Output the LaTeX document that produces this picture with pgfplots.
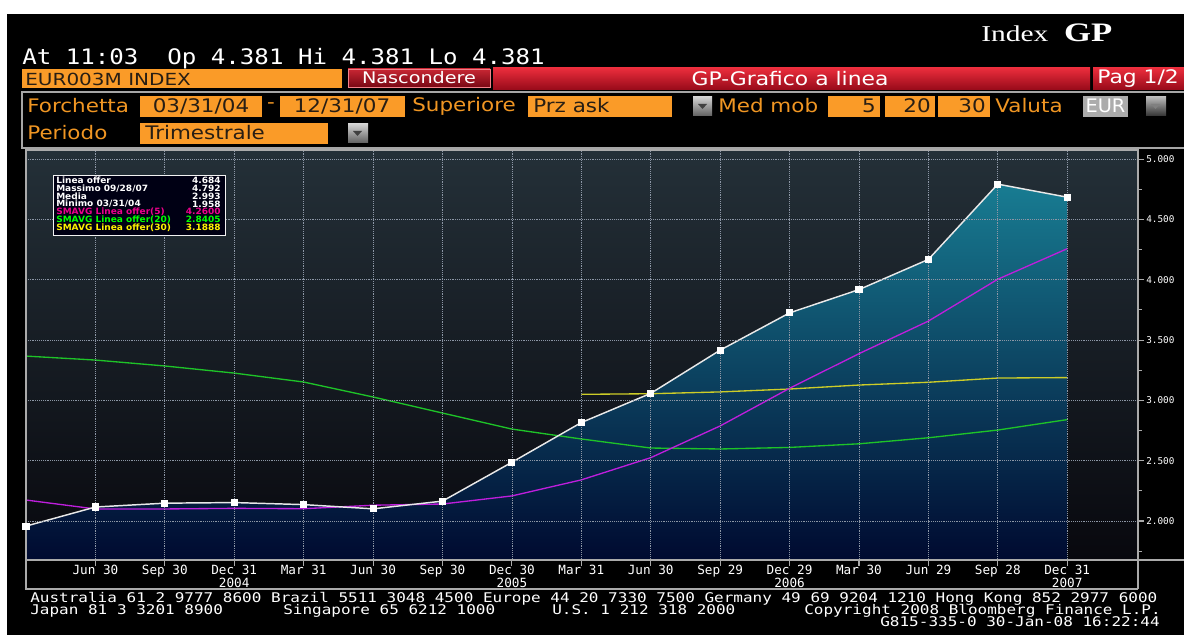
\documentclass[border=0pt]{standalone}
\usepackage{fontspec}
\setmainfont{DejaVu Sans}
\newfontfamily\mono{DejaVu Sans Mono}
\newfontfamily\ser{Liberation Serif}
\usepackage{pgfplots}
\pgfplotsset{compat=1.18}
\definecolor{bbor}{RGB}{250,155,40}
\definecolor{bbort}{RGB}{240,150,35}
\definecolor{boxtxt}{RGB}{40,30,20}
\definecolor{redT}{RGB}{235,45,60}
\definecolor{redB}{RGB}{150,10,25}
\definecolor{fillTop}{RGB}{24,124,146}
\definecolor{fillBot}{RGB}{0,10,48}
\definecolor{bgTop}{RGB}{36,48,56}
\definecolor{bgMid}{RGB}{20,26,28}
\definecolor{bgBot}{RGB}{8,8,14}
\definecolor{magl}{RGB}{190,30,220}
\definecolor{grnl}{RGB}{30,195,40}
\definecolor{yell}{RGB}{205,205,40}
\definecolor{gridc}{RGB}{140,150,165}
\definecolor{framec}{RGB}{170,170,170}
\begin{document}
\begin{tikzpicture}
\tikzset{P/.style={x=0.75pt,y=-0.75pt,shift={(0pt,476.25pt)}},
 hd/.style={font=\fontsize{14}{14}\selectfont, xscale=1.15, inner sep=0pt},
 lg/.style={font=\bfseries\fontsize{6.5}{6.5}\selectfont, xscale=1.04, inner sep=0pt},
 ft/.style={font=\mono\fontsize{10}{10}\selectfont, xscale=1.2, inner sep=0pt, text=white, anchor=base west},
 dd/.style={top color=gray!35, bottom color=gray!75!black}}
\useasboundingbox (0,0) rectangle (888pt,476.25pt);
\fill[white] (0,0) rectangle (888pt,476.25pt);
\begin{scope}[P]
\fill[black] (7,14) rectangle (1184,635);
% title
\node[anchor=base west, text=white, inner sep=0pt, xscale=1.3, font=\ser\fontsize{17}{17}\selectfont] at (981,42) {Index\hspace{9pt}{\fontsize{20}{20}\selectfont\bfseries GP}};
\node[anchor=base west, text=white, inner sep=0pt, xscale=1.13, font=\mono\fontsize{16}{16}\selectfont] at (22,65) {At 11:03\ \ Op 4.381 Hi 4.381 Lo 4.381};
% row of bars
\fill[bbor] (22,69) rectangle (342,88);
\node[anchor=west, text=boxtxt, inner sep=0pt, xscale=1.2, font=\fontsize{12.5}{12.5}\selectfont] at (25,79) {EUR003M INDEX};
\shade[top color=redT!85!black, bottom color=redB!80!black] (348,69) rectangle (490,87);
\draw[redT!60!white, line width=0.5pt] (348,69) rectangle (490,87);
\node[text=white, inner sep=0pt, xscale=1.2, font=\fontsize{12}{12}\selectfont] at (419,78) {Nascondere};
\shade[top color=redT, bottom color=redB] (493,68) rectangle (1090,90);
\node[text=white, inner sep=0pt, xscale=1.17, font=\fontsize{14}{14}\selectfont] at (790,79) {GP-Grafico a linea};
\shade[top color=redT, bottom color=redB] (1093,68) rectangle (1184,90);
\node[anchor=west, text=white, inner sep=0pt, xscale=1.17, font=\fontsize{14}{14}\selectfont] at (1097,79) {Pag 1/2};
% panel
\draw[gray!70, line width=0.8pt] (22,92) rectangle (1190,148);
\node[hd, anchor=west, text=bbort] at (27,106) {Forchetta};
\fill[bbor] (140,96) rectangle (262,117);
\node[hd, text=boxtxt] at (201,106) {03/31/04};
\node[hd, text=bbort] at (271,106) {-};
\fill[bbor] (280,96) rectangle (405,117);
\node[hd, text=boxtxt] at (342,106) {12/31/07};
\node[hd, anchor=west, text=bbort] at (412,106) {Superiore};
\fill[bbor] (528,96) rectangle (672,117);
\node[hd, anchor=west, text=boxtxt] at (533,106) {Prz ask};
\shade[dd] (693,97) rectangle (712,116);
\fill[black!75] (698,104) -- (707,104) -- (702.5,109) -- cycle;
\node[hd, anchor=west, text=bbort] at (718,106) {Med mob};
\fill[bbor] (828,96) rectangle (880,117);
\node[hd, anchor=east, text=boxtxt] at (876,106) {5};
\fill[bbor] (885,96) rectangle (935,117);
\node[hd, anchor=east, text=boxtxt] at (931,106) {20};
\fill[bbor] (938,96) rectangle (990,117);
\node[hd, anchor=east, text=boxtxt] at (986,106) {30};
\node[hd, anchor=west, text=bbort] at (995,106) {Valuta};
\fill[gray!65] (1083,96) rectangle (1128,117);
\node[hd, text=white, xscale=0.9] at (1105.5,106) {EUR};
\shade[top color=gray!55, bottom color=gray!40!black] (1146,97) rectangle (1166,116);
\fill[black!50] (1151,104) -- (1160,104) -- (1155.5,109) -- cycle;
\node[hd, anchor=west, text=bbort] at (27,133) {Periodo};
\fill[bbor] (140,123) rectangle (328,144);
\node[hd, anchor=west, text=boxtxt] at (145,133) {Trimestrale};
\shade[dd] (348,124) rectangle (368,143);
\fill[black!75] (353,131) -- (362,131) -- (357.5,136) -- cycle;
\end{scope}

\begin{axis}[
 at={(19.5pt,56.25pt)}, anchor=south west,
 width=834pt, height=307.5pt, scale only axis,
 xmin=0, xmax=16.02, ymin=1.677, ymax=5.075,
 axis on top,
 axis background/.style={top color=bgTop, middle color=bgMid, bottom color=bgBot},
 axis line style={draw=framec, line width=1pt},
 xtick={1,...,15},
 xticklabels={Jun 30,Sep 30,Dec 31\\2004,Mar 31,Jun 30,Sep 30,Dec 30\\2005,Mar 31,Jun 30,Sep 29,Dec 29\\2006,Mar 30,Jun 29,Sep 28,Dec 31\\2007},
 ytick={2,2.5,3,3.5,4,4.5,5},
 minor ytick={1.75,2.25,2.75,3.25,3.75,4.25,4.75},
 xtick pos=bottom, ytick pos=right, yticklabel pos=right,
 tick align=outside,
 major tick length=4.5pt, minor tick length=3pt,
 tick style={draw=framec, line width=0.8pt},
 xmajorgrids, ymajorgrids,
 grid style={draw=gridc, densely dotted, line width=0.6pt},
 /pgf/number format/assume math mode=true,
 yticklabel style={font=\mono\fontsize{7}{7}\selectfont, text=white, /pgf/number format/fixed, /pgf/number format/fixed zerofill, /pgf/number format/precision=3, inner xsep=1.5pt},
 xticklabel style={font=\mono\fontsize{9.5}{9.2}\selectfont, text=white, align=center, yshift=4pt},
]
% area under the offer line
\addplot[draw=none, top color=fillTop, bottom color=fillBot] coordinates {
 (0,1.677) (0,1.958) (1,2.116) (2,2.148) (3,2.153) (4,2.136) (5,2.101) (6,2.165) (7,2.487)
 (8,2.816) (9,3.058) (10,3.416) (11,3.725) (12,3.918) (13,4.168) (14,4.792) (15,4.684) (15,1.677)} -- cycle;
% SMAVG 20
\addplot[grnl, line width=1pt] coordinates {
 (0,3.367) (1,3.334) (2,3.285) (3,3.226) (4,3.152) (5,3.028) (6,2.895) (7,2.762)
 (8,2.680) (9,2.605) (10,2.597) (11,2.610) (12,2.640) (13,2.690) (14,2.754) (15,2.8405)};
% SMAVG 30
\addplot[yell, line width=1pt] coordinates {
 (8,3.050) (9,3.055) (10,3.070) (11,3.094) (12,3.127) (13,3.150) (14,3.185) (15,3.1888)};
% SMAVG 5
\addplot[magl, line width=1pt] coordinates {
 (0,2.174) (1,2.100) (2,2.100) (3,2.105) (4,2.102) (5,2.131) (6,2.141) (7,2.208)
 (8,2.341) (9,2.525) (10,2.788) (11,3.100) (12,3.387) (13,3.657) (14,4.004) (15,4.257)};
% offer line
\addplot[white!82!gray, line width=1.1pt, mark=square*, mark size=2.1pt, mark options={fill=white, draw=white}] coordinates {
 (0,1.958) (1,2.116) (2,2.148) (3,2.153) (4,2.136) (5,2.101) (6,2.165) (7,2.487)
 (8,2.816) (9,3.058) (10,3.416) (11,3.725) (12,3.918) (13,4.168) (14,4.792) (15,4.684)};
\end{axis}

\begin{scope}[P]
% frame of the date strip
\draw[framec, line width=1pt] (26,560) -- (26,589) -- (1138,589);
\draw[framec, line width=1pt] (1138,150) -- (1138,589);
\draw[framec, line width=1pt] (1138,560) -- (1184,560);
% info box
\fill[black!92!blue] (53,175) rectangle (225,235);
\draw[white!90!gray, line width=0.7pt] (53,175) rectangle (225,235);
\node[lg, anchor=west, text=white] at (56,180.5) {Linea offer};
\node[lg, anchor=east, text=white] at (221,180.5) {4.684};
\node[lg, anchor=west, text=white] at (56,188.3) {Massimo 09/28/07};
\node[lg, anchor=east, text=white] at (221,188.3) {4.792};
\node[lg, anchor=west, text=white] at (56,196.1) {Media};
\node[lg, anchor=east, text=white] at (221,196.1) {2.993};
\node[lg, anchor=west, text=white] at (56,203.9) {Minimo 03/31/04};
\node[lg, anchor=east, text=white] at (221,203.9) {1.958};
\node[lg, anchor=west, text=magenta] at (56,211.7) {SMAVG Linea offer(5)};
\node[lg, anchor=east, text=magenta] at (221,211.7) {4.2600};
\node[lg, anchor=west, text=green] at (56,219.5) {SMAVG Linea offer(20)};
\node[lg, anchor=east, text=green] at (221,219.5) {2.8405};
\node[lg, anchor=west, text=yellow] at (56,227.3) {SMAVG Linea offer(30)};
\node[lg, anchor=east, text=yellow] at (221,227.3) {3.1888};
% footer
\node[ft] at (30,602) {Australia 61 2 9777 8600 Brazil 5511 3048 4500 Europe 44 20 7330 7500 Germany 49 69 9204 1210 Hong Kong 852 2977 6000};
\node[ft] at (30,614) {Japan 81 3 3201 8900};
\node[ft] at (283,614) {Singapore 65 6212 1000};
\node[ft] at (552,614) {U.S. 1 212 318 2000};
\node[ft] at (804,614) {Copyright 2008 Bloomberg Finance L.P.};
\node[ft, anchor=base east] at (1160,626) {G815-335-0 30-Jan-08 16:22:44};
\end{scope}
\end{tikzpicture}
\end{document}
